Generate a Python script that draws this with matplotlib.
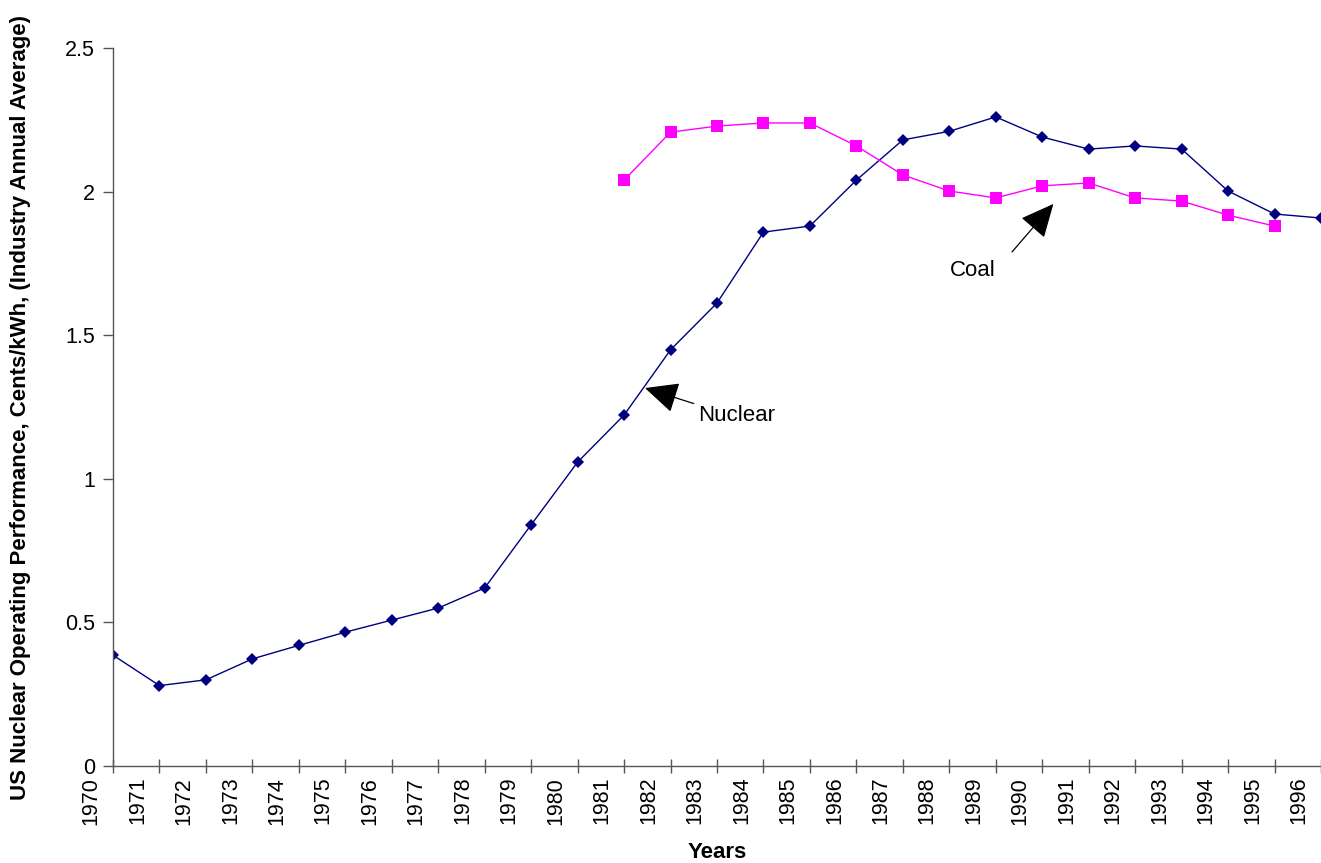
import matplotlib
matplotlib.use('Agg')
import matplotlib.pyplot as plt
import matplotlib.transforms as mtransforms

plt.rcParams['font.family'] = ['Liberation Sans', 'DejaVu Sans']

years = [str(y) for y in range(1970, 1997)]

# cents per kWh, industry annual average
nuclear = [0.386, 0.28, 0.30, 0.373, 0.42, 0.466, 0.508, 0.55, 0.62, 0.84,
           1.058, 1.222, 1.449, 1.612, 1.859, 1.88, 2.04, 2.18, 2.21, 2.26,
           2.19, 2.148, 2.159, 2.148, 2.002, 1.922, 1.908]
coal_years = years[11:26]
coal = [2.04, 2.207, 2.228, 2.239, 2.239, 2.159, 2.058, 2.002, 1.978, 2.02,
        2.03, 1.978, 1.967, 1.918, 1.88]

fig = plt.figure(figsize=(13.21, 8.63), dpi=100)
ax = fig.add_axes([113/1321, 97/863, 1 - 113/1321, 718/863])

xn = [years.index(y) for y in years]
xc = [years.index(y) for y in coal_years]

ax.plot(xn, nuclear, color='#000080', lw=1.0, marker='D', ms=6.5,
        markeredgewidth=0)
ax.plot(xc, coal, color='#FF00FF', lw=1.0, marker='s', ms=8,
        markeredgewidth=0)

ax.set_xlim(0, 26)
ax.set_ylim(0, 2.5)
ax.set_yticks([0, 0.5, 1, 1.5, 2, 2.5])
ax.set_yticklabels(['0', '0.5', '1', '1.5', '2', '2.5'])
ax.set_xticks(xn)
ax.set_xticklabels(years, rotation=90, va='top')

for s in ['top', 'right']:
    ax.spines[s].set_visible(False)
for s in ['left', 'bottom']:
    ax.spines[s].set_color('#555555')
    ax.spines[s].set_linewidth(1.0)

ax.tick_params(axis='x', direction='inout', length=9.5, width=1.0,
               color='#555555', labelsize=15.5, pad=3)
ax.tick_params(axis='y', direction='out', length=7, width=1.0,
               color='#555555', labelsize=15.5, pad=6)

# shift year labels half a category to the left
offset = mtransforms.ScaledTranslation(-0.22, 0, fig.dpi_scale_trans)
for lab in ax.get_xticklabels():
    lab.set_transform(lab.get_transform() + offset)

ax.set_ylabel('US Nuclear Operating Performance, Cents/kWh, (Industry Annual Average)',
              fontsize=16, fontweight='bold')
ax.yaxis.set_label_coords(-0.068, 0.5)
ax.set_xlabel('Years', fontsize=16, fontweight='bold')
ax.xaxis.set_label_coords(0.5, -0.106)

arrow = dict(arrowstyle='-|>,head_length=1.5,head_width=0.7',
             mutation_scale=14, lw=0.9, color='black', shrinkA=0, shrinkB=0)
ax.annotate('', xy=(11.45, 1.316), xytext=(12.5, 1.262), arrowprops=arrow)
ax.text(13.43, 1.222, 'Nuclear', fontsize=16, ha='center', va='center')
ax.annotate('', xy=(20.24, 1.957), xytext=(19.35, 1.79), arrowprops=arrow)
ax.text(18.51, 1.727, 'Coal', fontsize=16, ha='center', va='center')

fig.savefig('out.png', dpi=100)
